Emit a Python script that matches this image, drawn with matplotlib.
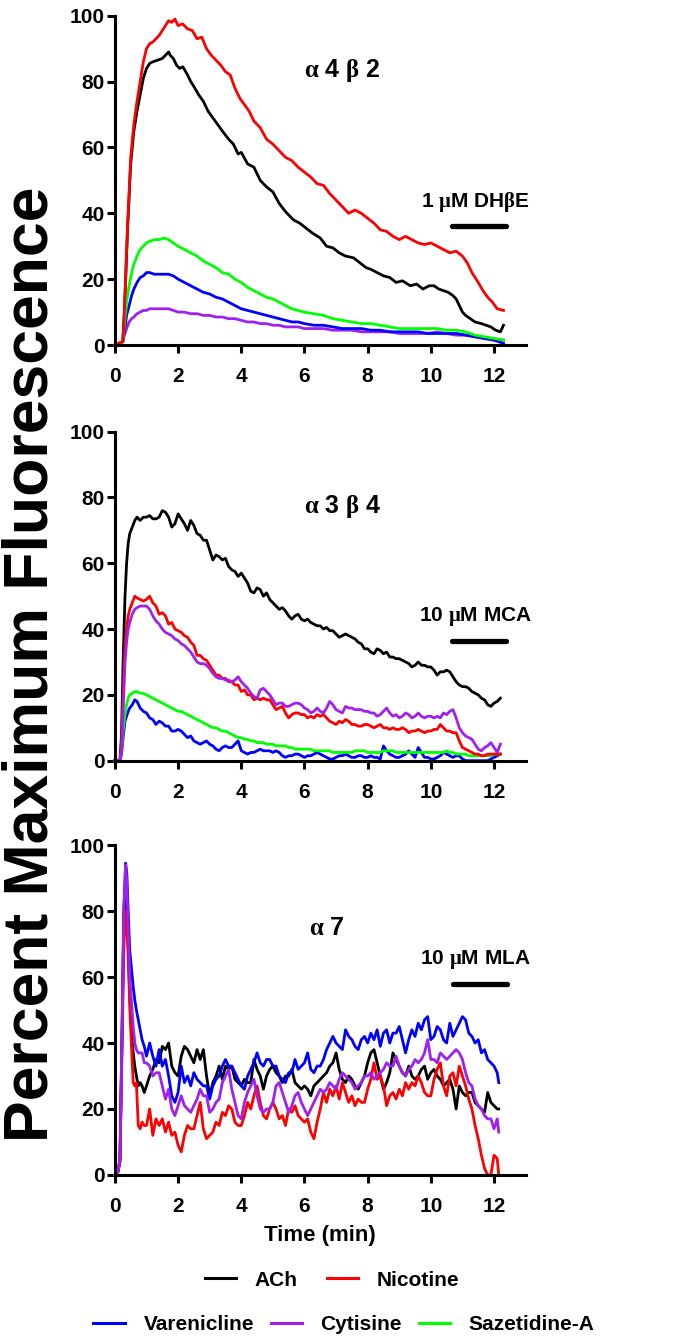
import matplotlib
matplotlib.use("Agg")
import matplotlib.pyplot as plt
from matplotlib import font_manager
from matplotlib.lines import Line2D

# ---- alpha4beta2 ----
t_a4b2_ach = [0, 0.25, 0.3, 0.4, 0.5, 0.6, 0.7, 0.8, 0.9, 1.0,
              1.1, 1.2, 1.35, 1.5, 1.6, 1.7, 1.75, 1.85, 1.95, 2.05,
              2.15, 2.3, 2.4, 2.5, 2.65, 2.8, 2.95, 3.1, 3.25, 3.4,
              3.6, 3.75, 3.9, 4.0, 4.2, 4.4, 4.6, 4.8, 5.0, 5.2,
              5.4, 5.65, 5.85, 6.05, 6.25, 6.5, 6.7, 6.9, 7.1, 7.3,
              7.55, 7.75, 7.95, 8.1, 8.3, 8.5, 8.7, 8.9, 9.1, 9.35,
              9.55, 9.75, 9.95, 10.1, 10.25, 10.4, 10.55, 10.7, 10.8, 10.9,
              11.0, 11.1, 11.25, 11.4, 11.6, 11.75, 11.9, 12.05, 12.2, 12.3]
a4b2_ach = [0, 1, 10, 35, 55, 65, 71, 76, 81, 84,
            85.5, 86, 86.5, 87, 88, 89, 88, 87, 85, 84,
            84.5, 82, 80, 78.5, 76, 74, 71, 69, 67, 65,
            62.5, 61, 58, 58.5, 55, 54, 50, 48, 46.5, 43,
            40.5, 38, 37, 35.5, 34, 32.5, 30, 29.5, 28, 27,
            26.5, 25, 23.5, 23, 22, 21, 20.5, 19, 19.5, 18,
            18.5, 17, 18, 18, 17, 16.5, 16, 15, 14, 12,
            10, 9, 8, 7, 6.5, 6, 5.5, 4.5, 4, 6]

t_a4b2_nic = [0, 0.25, 0.3, 0.4, 0.5, 0.6, 0.7, 0.8, 0.9, 1.0,
              1.1, 1.2, 1.3, 1.4, 1.5, 1.6, 1.7, 1.8, 1.9, 2.0,
              2.15, 2.3, 2.45, 2.6, 2.75, 2.9, 3.05, 3.2, 3.35, 3.5,
              3.65, 3.8, 3.95, 4.1, 4.25, 4.4, 4.6, 4.8, 5.0, 5.2,
              5.4, 5.6, 5.8, 6.0, 6.2, 6.4, 6.6, 6.8, 7.0, 7.2,
              7.4, 7.6, 7.8, 8.0, 8.2, 8.4, 8.6, 8.8, 9.0, 9.2,
              9.4, 9.6, 9.8, 10.0, 10.2, 10.4, 10.6, 10.8, 11.0, 11.15,
              11.3, 11.5, 11.65, 11.8, 11.95, 12.1, 12.3]
a4b2_nic = [0, 1, 10, 36, 57, 67, 74, 80, 86, 90,
            91.5, 92, 93, 94, 95.5, 97, 98.5, 98, 99, 97,
            97.5, 96, 95.5, 93, 93.5, 90, 88, 86.5, 85, 83,
            82, 78, 75, 73, 71, 68, 66, 62.5, 61, 59,
            57, 56, 54, 52.5, 51, 49, 48.5, 46, 44, 42,
            40, 41, 40, 38.5, 37, 35, 34.5, 33, 32, 33,
            32, 31, 30.5, 31, 30, 29, 28, 28.5, 27, 25,
            22, 19, 16.5, 14.5, 13, 11, 10.5]

t_a4b2_low = [0, 0.25, 0.3, 0.37, 0.45, 0.53, 0.6, 0.7, 0.8, 0.9,
              1.0, 1.1, 1.25, 1.4, 1.55, 1.7, 1.85, 2.0, 2.2, 2.4,
              2.6, 2.8, 3.0, 3.2, 3.4, 3.6, 3.8, 4.0, 4.2, 4.4,
              4.6, 4.8, 5.0, 5.2, 5.4, 5.6, 5.8, 6.0, 6.3, 6.6,
              6.9, 7.2, 7.5, 7.8, 8.1, 8.4, 8.7, 9.0, 9.3, 9.6,
              9.9, 10.2, 10.5, 10.8, 11.1, 11.4, 11.7, 12.0, 12.3]
a4b2_var = [0, 1, 4, 9, 12, 15, 17, 19, 20.5, 21,
            22, 22, 21.5, 21.5, 21.5, 21.5, 21, 20, 19, 18,
            17, 16, 15.5, 14.5, 14, 13, 12, 11, 10.5, 10,
            9.5, 9, 8.5, 8, 7.5, 7, 7, 6.5, 6, 6,
            5.5, 5, 5, 5, 4.5, 4.5, 4, 4, 4, 4,
            3.5, 3.5, 3.5, 3.5, 3, 2.5, 2, 1.5, 0.5]
a4b2_cyt = [0, 1, 3, 5, 7, 8, 8.5, 9.5, 10, 10.5,
            10.5, 11, 11, 11, 11, 11, 10.5, 10, 10, 9.5,
            9.5, 9, 9, 8.5, 8.5, 8, 8, 7.5, 7, 7,
            6.5, 6.5, 6, 6, 5.5, 5.5, 5.5, 5, 5, 5,
            4.5, 4.5, 4.5, 4, 4, 4, 4, 3.5, 3.5, 3.5,
            3.5, 4, 3.5, 3, 3, 2.5, 2, 1.5, 1.5]
a4b2_saz = [0, 1, 6, 13, 18, 22, 24.5, 27, 29, 30,
            31, 31.5, 32, 32, 32.5, 32, 31, 30, 29, 28,
            27, 25.5, 24.5, 23.5, 22, 21.5, 20, 19, 17.5, 16.5,
            15.5, 14.5, 14, 13, 12, 11, 10.5, 10, 9.5, 9,
            8, 7.5, 7, 6.5, 6.5, 6, 5.5, 5, 5, 5,
            5, 5, 4.5, 4.5, 4, 3, 2.5, 2, 1.5]

# ---- alpha3beta4 ----
t_a3b4 = [0, 0.1, 0.16, 0.21, 0.26, 0.32, 0.37, 0.42, 0.47, 0.55, 0.63, 0.7, 0.8, 0.9,
          1.0, 1.1, 1.2, 1.3, 1.4, 1.5, 1.6, 1.7, 1.8, 1.9,
          2.0, 2.1, 2.2, 2.3, 2.4, 2.5, 2.6, 2.7, 2.8, 2.9,
          3.0, 3.1, 3.2, 3.3, 3.4, 3.5, 3.6, 3.7, 3.8, 3.9,
          4.0, 4.1, 4.2, 4.3, 4.4, 4.5, 4.6, 4.7, 4.8, 4.9,
          5.0, 5.1, 5.2, 5.3, 5.4, 5.5, 5.6, 5.7, 5.8, 5.9,
          6.0, 6.1, 6.2, 6.3, 6.4, 6.5, 6.6, 6.7, 6.8, 6.9,
          7.0, 7.1, 7.2, 7.3, 7.4, 7.5, 7.6, 7.7, 7.8, 7.9,
          8.0, 8.1, 8.2, 8.3, 8.4, 8.5, 8.6, 8.7, 8.8, 8.9,
          9.0, 9.1, 9.2, 9.3, 9.4, 9.5, 9.6, 9.7, 9.8, 9.9,
          10.0, 10.1, 10.2, 10.3, 10.4, 10.5, 10.6, 10.7, 10.8, 10.9,
          11.0, 11.1, 11.2, 11.3, 11.4, 11.5, 11.6, 11.7, 11.8, 11.9,
          12.0, 12.1, 12.2]
a3b4_ach = [0, 0, 0, 8, 30, 50, 60, 66, 69, 71, 73, 74, 73, 74,
            74, 74.5, 73.5, 73.5, 74, 76, 75.5, 74, 71, 72,
            75, 73.5, 72, 70, 73, 71.5, 69, 68.5, 67, 67,
            64, 61, 62.5, 62, 61, 61.5, 59, 58, 57.5, 56,
            57, 55.5, 54, 51.5, 51, 52.5, 52, 50, 51, 49,
            48, 47, 46, 46.5, 45.5, 44, 43, 44, 44.5, 43,
            42.5, 43, 42, 41.5, 41, 41, 40, 40.5, 39.5, 39.5,
            38.5, 37.5, 38, 38.5, 38, 37.5, 37, 36, 35.5, 34,
            34, 33, 32.5, 34, 33.5, 32.5, 33, 31.5, 31.5, 31,
            31, 30.5, 30, 29.5, 28.5, 29, 30, 29, 29, 28.5,
            28.5, 27.5, 26, 27, 27, 27.5, 27, 25.5, 24, 23,
            22.5, 22.5, 22, 21, 20.5, 20, 19, 18.5, 17, 16.5,
            17.5, 18, 19]
a3b4_nic = [0, 0, 0, 5, 20, 35, 40, 44, 46, 48, 50, 49.5, 49, 48.5,
            49, 50, 48, 47, 44.5, 45, 44, 41.5, 42, 40,
            39.5, 39, 38, 37.5, 36, 35, 32, 32, 31, 30.5,
            29, 27.5, 26, 26, 25, 25, 24, 24, 23, 23,
            21, 21.5, 20, 20, 18.5, 19, 18.5, 19, 18.5, 18.5,
            17, 15.5, 16, 16.5, 14.5, 13, 14, 14.5, 14.5, 14,
            14, 13, 13.5, 13, 14, 13.5, 14, 13, 12, 11.5,
            11, 12, 11.5, 12.5, 12, 11, 11, 10.5, 10.5, 11,
            11, 10.5, 10, 10.5, 11, 10, 10, 9.5, 10, 9.5,
            9.5, 10, 9.5, 8.5, 9, 9, 9.5, 9, 8.5, 9,
            9, 9.5, 9.5, 11, 10, 9, 9, 8.5, 8.5, 6,
            4, 3.5, 3, 2.5, 2, 2, 1.5, 1.5, 2, 2,
            2, 2, 2]
a3b4_var = [0, 0, 0, 2, 7, 12, 13.5, 15, 16, 17, 18.5, 18, 16, 15,
            14.5, 13, 12.5, 11, 12, 11.5, 10.5, 10.5, 9, 9,
            9.5, 9, 8, 7, 7.5, 6, 5.5, 5, 5.5, 6,
            5, 4.5, 3.5, 3, 4, 4.5, 4, 4, 5, 6,
            3, 2.5, 2, 2.5, 2.5, 3, 3.5, 3, 3, 3,
            2.5, 3, 2.5, 1.5, 1, 1.5, 1.5, 2, 2, 1.5,
            1, 1.5, 1.5, 2, 2.5, 2, 1.5, 1, 0.5, 0.5,
            1, 1.5, 1.5, 2, 1.5, 1, 1, 1.5, 1.5, 1,
            1, 1.5, 1, 1, 0.5, 4.5, 3, 2, 1.5, 1,
            1, 1.5, 2, 3, 2, 1, 4, 2.5, 1, 1,
            0.5, 0.5, 1, 1.5, 2.5, 2, 1.5, 1, 1.5, 1.5,
            0.5, 0, 0, 0, 0, 0, 0, 0, 0, 0.5,
            1, 1.5, 2]
a3b4_cyt = [0, 0, 0, 3, 15, 30, 36, 40, 42, 44.5, 46, 46.5, 47, 47,
            47, 46, 44, 42.5, 41.5, 40, 39, 38.5, 38, 37,
            36.5, 35.5, 35, 34, 33, 31.5, 30, 29.5, 29.5, 29,
            28, 26.5, 25.5, 25, 25, 24.5, 24.5, 24, 24.5, 25.5,
            24, 23, 22, 20.5, 19.5, 19, 21.5, 22, 21, 20,
            18.5, 17, 17.5, 17.5, 16.5, 16.5, 17, 17.5, 17.5, 17,
            16, 15.5, 14.5, 15, 16, 15, 14.5, 16, 18, 17,
            15.5, 15, 14.5, 16.5, 16, 16, 15.5, 15.5, 15.5, 15,
            15, 14.5, 14.5, 13.5, 14, 15, 16, 14.5, 13.5, 14,
            13, 13.5, 14.5, 14, 13, 13.5, 14.5, 13.5, 13, 13.5,
            13.5, 13, 13.5, 13, 14.5, 14, 15, 15.5, 13, 10,
            8.5, 7.5, 7, 6.5, 5, 3.5, 3, 4, 4.5, 5.5,
            4, 2.5, 5]
a3b4_saz = [0, 0, 0, 3, 9, 14, 17, 19, 20, 20.5, 21, 21, 20.5, 20.5,
            20, 19.5, 19, 18.5, 18, 17.5, 17, 16.5, 16, 15.5,
            15, 15, 14.5, 14, 13.5, 13, 12.5, 12, 11.5, 11,
            10.5, 10, 10, 9.5, 9, 9, 8.5, 8, 7.5, 7,
            7, 6.5, 6.5, 6, 6, 5.5, 5.5, 5.5, 5, 5,
            5, 4.5, 4.5, 4.5, 4.5, 4, 4, 3.5, 3.5, 3.5,
            3.5, 3.5, 3.5, 3, 3, 3, 3, 3, 3, 2.5,
            2.5, 2.5, 2.5, 2.5, 2.5, 2.5, 3, 3, 3, 3,
            2.5, 2.5, 2.5, 2.5, 2.5, 3, 3, 3, 3, 2.5,
            2.5, 2.5, 2.5, 2.5, 2.5, 2.5, 2.5, 2.5, 2.5, 2.5,
            2.5, 2.5, 2.5, 2.5, 2.5, 3, 2.5, 2.5, 2, 2,
            2, 2, 1.5, 1.5, 1.5, 1.5, 1.5, 1.5, 1.5, 1.5,
            2, 2, 2]

# ---- alpha7 ----
t_a7 = [0, 0.1, 0.16, 0.22, 0.28, 0.34, 0.38, 0.42, 0.47, 0.53, 0.58, 0.63, 0.68, 0.74, 0.8, 0.86, 0.93,
        1.0, 1.1, 1.2, 1.3, 1.4, 1.5, 1.6, 1.7, 1.8, 1.9,
        2.0, 2.1, 2.2, 2.3, 2.4, 2.5, 2.6, 2.7, 2.8, 2.9,
        3.0, 3.1, 3.2, 3.3, 3.4, 3.5, 3.6, 3.7, 3.8, 3.9,
        4.0, 4.1, 4.2, 4.3, 4.4, 4.5, 4.6, 4.7, 4.8, 4.9,
        5.0, 5.1, 5.2, 5.3, 5.4, 5.5, 5.6, 5.7, 5.8, 5.9,
        6.0, 6.1, 6.2, 6.3, 6.4, 6.5, 6.6, 6.7, 6.8, 6.9,
        7.0, 7.1, 7.2, 7.3, 7.4, 7.5, 7.6, 7.7, 7.8, 7.9,
        8.0, 8.1, 8.2, 8.3, 8.4, 8.5, 8.6, 8.7, 8.8, 8.9,
        9.0, 9.1, 9.2, 9.3, 9.4, 9.5, 9.6, 9.7, 9.8, 9.9,
        10.0, 10.1, 10.2, 10.3, 10.4, 10.5, 10.6, 10.7, 10.8, 10.9,
        11.0, 11.1, 11.2, 11.3, 11.4, 11.5, 11.6, 11.7, 11.8, 11.9,
        12.0, 12.1, 12.15]
a7_ach = [0, 1, 4, 38, 75, 90, 82, 70, 55, 43, 37, 33, 30, 27, 28, 27, 25,
          27, 30, 32, 35, 34, 39, 38, 40, 33, 31,
          30, 36, 39, 38, 36, 34, 38, 35, 38, 30,
          24, 28, 30, 33, 29, 33, 32, 33, 29, 28,
          27, 29, 28, 28, 35, 32, 30, 26, 30, 32,
          33, 31, 30, 28, 30, 30, 32, 28, 27, 26,
          27, 26, 24, 27, 28, 29, 30, 31, 33, 34,
          37, 32, 29, 28, 30, 29, 27, 26, 28, 30,
          34, 37, 38, 34, 30, 26, 28, 31, 37, 35,
          33, 31, 30, 33, 30, 29, 30, 32, 33, 29,
          31, 32, 30, 29, 27, 28, 29, 26, 20, 27,
          25, 24, 25, 25, 22, 21, 20, 19, 25, 22,
          21, 20, 20]
a7_var = [0, 1, 5, 40, 80, 94.5, 91, 80, 68, 62, 57, 53, 50, 47, 44, 41, 39,
          36, 40, 36, 33, 38, 33, 35, 30, 24, 22,
          25, 33, 28, 30, 27, 31, 29, 28, 27, 27,
          23, 27, 29, 30, 33, 35, 33, 33, 31, 29,
          27, 26, 30, 32, 34, 37, 34, 33, 35, 35,
          33, 33, 30, 29, 28, 31, 31, 35, 32, 33,
          34, 37, 32, 31, 33, 33, 35, 38, 40, 42,
          40, 39, 38, 44, 42, 41, 39, 38, 41, 42,
          40, 43, 41, 44, 39, 43, 44, 40, 43, 43,
          45, 41, 37, 41, 44, 42, 46, 44, 47, 48,
          41, 42, 45, 44, 41, 40, 46, 42, 44, 46,
          48, 47, 43, 42, 40, 41, 37, 38, 35, 34,
          33, 31, 28]
a7_nic = [0, 2, 4, 35, 68, 80, 76, 66, 51, 38, 28, 27, 28, 15, 14, 16, 15,
          15, 20, 12, 17, 15, 17, 13, 16, 12, 13,
          9, 7, 12, 15, 14, 14, 18, 22, 14, 11,
          12, 13, 16, 15, 19, 18, 21, 20, 16, 15,
          15, 18, 22, 20, 24, 27, 22, 18, 17, 20,
          22, 20, 17, 18, 15, 20, 19, 21, 18, 17,
          16, 17, 13, 11, 16, 20, 25, 22, 26, 24,
          27, 23, 28, 25, 22, 24, 21, 23, 22, 22,
          26, 29, 34, 29, 30, 27, 21, 24, 25, 23,
          26, 24, 28, 26, 28, 27, 30, 28, 25, 24,
          24, 29, 32, 34, 27, 24, 30, 31, 27, 33,
          30, 27, 23, 20, 15, 11, 6, 2, 0, 0,
          6, 5, 0]
a7_cyt = [0, 1, 5, 40, 79, 94, 88, 75, 60, 52, 45, 40, 38, 37, 37, 37, 34,
          34, 33, 30, 31, 31, 27, 23, 26, 20, 18,
          21, 24, 21, 20, 19, 21, 23, 26, 24, 24,
          19, 20, 22, 23, 28, 30, 32, 26, 22, 18,
          17, 22, 25, 27, 29, 24, 20, 19, 20, 20,
          22, 27, 28, 25, 22, 19, 21, 24, 25, 22,
          20, 18, 20, 22, 24, 26, 25, 26, 28, 27,
          26, 29, 31, 30, 29, 28, 26, 27, 28, 30,
          30, 31, 29, 30, 31, 32, 34, 33, 33, 36,
          33, 31, 30, 32, 33, 35, 34, 35, 37, 41,
          35, 35, 34, 37, 36, 35, 36, 37, 38, 37,
          35, 31, 28, 27, 23, 21, 20, 18, 17, 17,
          14, 17, 13]

drug_names = ["ACh", "Nicotine", "Varenicline", "Cytisine", "Sazetidine-A"]
drug_colors = ["#000000", "#ff0000", "#0000ff", "#a020f0", "#00ff00"]

x_ticks = [0, 2, 4, 6, 8, 10, 12]
y_ticks = [0, 20, 40, 60, 80, 100]


def pick_font(options):
    names = {f.name for f in font_manager.fontManager.ttflist}
    for fam in options:
        if fam in names:
            return fam
    return "DejaVu Sans"


def style_axis(ax):
    ax.set_xlim(0, 13)
    ax.set_ylim(0, 100)
    ax.spines["top"].set_visible(False)
    ax.spines["right"].set_visible(False)
    ax.spines["left"].set_linewidth(2.2)
    ax.spines["bottom"].set_linewidth(2.2)
    ax.set_xticks(x_ticks)
    ax.set_yticks(y_ticks)
    ax.tick_params(direction="out", length=6, width=2.2, labelsize=15)
    ax.tick_params(axis="y", pad=1.5)
    ax.tick_params(axis="x", pad=10)


def draw_panel(ax, series, title, title_xy, blocker, blocker_xy, bar_x, bar_y):
    for t, y, color in series:
        ax.plot(t, y, color=color, lw=2.0, clip_on=False, solid_joinstyle="round")
    ax.text(title_xy[0], title_xy[1], title, fontsize=18, fontweight="bold",
            ha="center", va="center")
    ax.text(blocker_xy[0], blocker_xy[1], blocker, fontsize=15, fontweight="bold",
            ha="center", va="center")
    ax.plot(bar_x, [bar_y, bar_y], color="black", lw=3.8, solid_capstyle="round")
    style_axis(ax)


def main():
    fam = pick_font(["Liberation Sans", "Arial"])
    serif = pick_font(["Liberation Serif", "DejaVu Serif"])
    plt.rcParams["font.family"] = [fam, "DejaVu Sans"]
    plt.rcParams["font.weight"] = "bold"
    plt.rcParams["mathtext.fontset"] = "custom"
    plt.rcParams["mathtext.rm"] = serif
    plt.rcParams["mathtext.it"] = serif + ":italic"
    plt.rcParams["mathtext.bf"] = serif + ":bold"

    fig = plt.figure(figsize=(6.88, 13.43), dpi=100)
    ax1 = fig.add_axes([0.167, 0.7431, 0.597, 0.2452])
    ax2 = fig.add_axes([0.167, 0.4336, 0.597, 0.2450])
    ax3 = fig.add_axes([0.167, 0.1251, 0.597, 0.2457])

    ach, nic, var, cyt, saz = drug_colors

    draw_panel(ax1,
               [(t_a4b2_ach, a4b2_ach, ach), (t_a4b2_low, a4b2_cyt, cyt),
                (t_a4b2_low, a4b2_var, var), (t_a4b2_low, a4b2_saz, saz),
                (t_a4b2_nic, a4b2_nic, nic)],
               r"$\mathrm{\alpha}$ 4 $\mathrm{\beta}$ 2", (7.2, 83.5),
               r"1 $\mathrm{\mu}$M DH$\mathrm{\beta}$E", (11.4, 43.4), [10.68, 12.39], 36.2)

    draw_panel(ax2,
               [(t_a3b4, a3b4_ach, ach), (t_a3b4, a3b4_var, var),
                (t_a3b4, a3b4_saz, saz), (t_a3b4, a3b4_nic, nic),
                (t_a3b4, a3b4_cyt, cyt)],
               r"$\mathrm{\alpha}$ 3 $\mathrm{\beta}$ 4", (7.2, 77.4),
               r"10 $\mathrm{\mu}$M MCA", (11.4, 43.7), [10.68, 12.39], 36.4)

    draw_panel(ax3,
               [(t_a7, a7_ach, ach), (t_a7, a7_var, var),
                (t_a7, a7_nic, nic), (t_a7, a7_cyt, cyt)],
               r"$\mathrm{\alpha}$ 7", (6.7, 74.8),
               r"10 $\mathrm{\mu}$M MLA", (11.42, 65.2), [10.7, 12.4], 57.9)

    ax3.set_xlabel("Time (min)", fontsize=16, fontweight="bold", labelpad=6)

    fig.text(0.045, 0.505, "Percent Maximum Fluorescence", rotation=90,
             fontsize=45, fontweight="bold", ha="center", va="center")

    handles = [Line2D([], [], color=c, lw=2.2) for c in drug_colors]
    fig.legend(handles[:2], drug_names[:2], loc="center",
               bbox_to_anchor=(332 / 688, 1 - 1280 / 1343), ncol=2, frameon=False,
               fontsize=15, handlelength=1.5, handletextpad=0.9, columnspacing=1.4)
    fig.legend(handles[2:], drug_names[2:], loc="center",
               bbox_to_anchor=(344 / 688, 1 - 1325 / 1343), ncol=3, frameon=False,
               fontsize=15, handlelength=1.5, handletextpad=0.9, columnspacing=0.8)

    fig.savefig("out.png", dpi=100)


if __name__ == "__main__":
    main()
